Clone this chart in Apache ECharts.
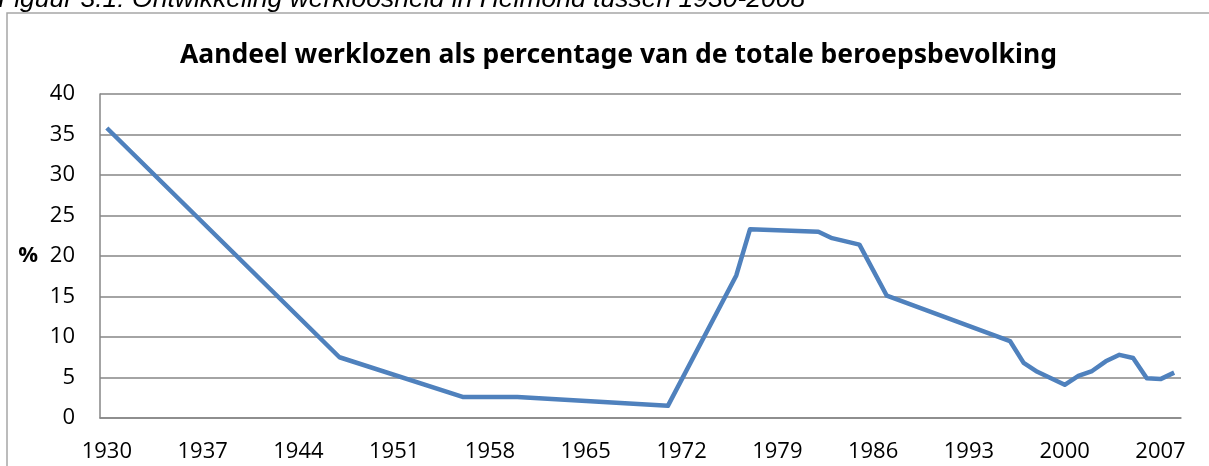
<!DOCTYPE html>
<html>
<head>
<meta charset="utf-8">
<script src="https://cdn.jsdelivr.net/npm/echarts@6/dist/echarts.min.js"></script>
<style>
    html,body{margin:0;padding:0;background:#fff;}
    #chart{width:1209px;height:466px;}
</style>
</head>
<body>
<div id="chart"></div>
<script>
    //年份与数值
    var years = [1930, 1947, 1956, 1960, 1971, 1976, 1977, 1982, 1983, 1985, 1987, 1996, 1997, 1998, 2000, 2001, 2002, 2003, 2004, 2005, 2006, 2007, 2008];
    var values = [35.8, 7.5, 2.6, 2.6, 1.5, 17.6, 23.3, 23.0, 22.2, 21.4, 15.1, 9.5, 6.8, 5.7, 4.1, 5.2, 5.8, 7.0, 7.8, 7.4, 4.9, 4.8, 5.6];
    var firstYear = 1930, lastYear = 2008;
    var yTicks = [0, 5, 10, 15, 20, 25, 30, 35, 40];

    //每年一个类目，没有数据的年份为空
    var categories = [], seriesData = [];
    for (var y = firstYear; y <= lastYear; y++) {
        categories.push(String(y));
        var idx = years.indexOf(y);
        seriesData.push(idx >= 0 ? values[idx] : null);
    }

    var chart = echarts.init(document.getElementById('chart'));
    chart.setOption({
        animation: false,
        graphic: [
            {
                type: 'rect',
                shape: {x: 7, y: 13, width: 1400, height: 600},
                style: {fill: 'none', stroke: '#a6a6a6', lineWidth: 1.5},
                silent: true
            },
            {
                type: 'text',
                left: -2,
                top: -14,
                style: {
                    text: 'Figuur 3.1: Ontwikkeling werkloosheid in Helmond tussen 1930-2008',
                    font: 'italic 26.5px "Liberation Sans", Arial, sans-serif',
                    fill: '#000'
                }
            }
        ],
        title: {
            text: 'Aandeel werklozen als percentage van de totale beroepsbevolking',
            left: 175,
            top: 37,
            textStyle: {
                fontFamily: '"Noto Sans", sans-serif',
                fontWeight: 'bold',
                fontSize: 26.5,
                color: '#000'
            }
        },
        grid: {left: 100, right: 28, top: 94, bottom: 48},
        xAxis: {
            type: 'category',
            data: categories,
            boundaryGap: true,
            axisLine: {lineStyle: {color: '#868686', width: 1.5}},
            axisTick: {show: false},
            axisLabel: {
                interval: 6,
                margin: 23,
                fontFamily: '"Open Sans", sans-serif',
                fontSize: 22,
                color: '#000'
            }
        },
        yAxis: {
            type: 'value',
            min: yTicks[0],
            max: yTicks[yTicks.length - 1],
            interval: 5,
            name: '%',
            nameLocation: 'middle',
            nameRotate: 0,
            nameGap: 62,
            nameTextStyle: {
                fontFamily: '"Open Sans", sans-serif',
                fontWeight: 'bold',
                fontSize: 22,
                color: '#000'
            },
            axisLine: {show: true, lineStyle: {color: '#868686', width: 1.5}},
            axisTick: {show: false},
            splitLine: {lineStyle: {color: '#868686', width: 1.5}},
            axisLabel: {
                margin: 25,
                fontFamily: '"Open Sans", sans-serif',
                fontSize: 22,
                color: '#000'
            }
        },
        series: [{
            name: 'werkloosheid',
            type: 'line',
            data: seriesData,
            connectNulls: true,
            showSymbol: false,
            symbol: 'none',
            lineStyle: {color: '#4f81bd', width: 4.5, join: 'round'}
        }]
    });
</script>
</body>
</html>
